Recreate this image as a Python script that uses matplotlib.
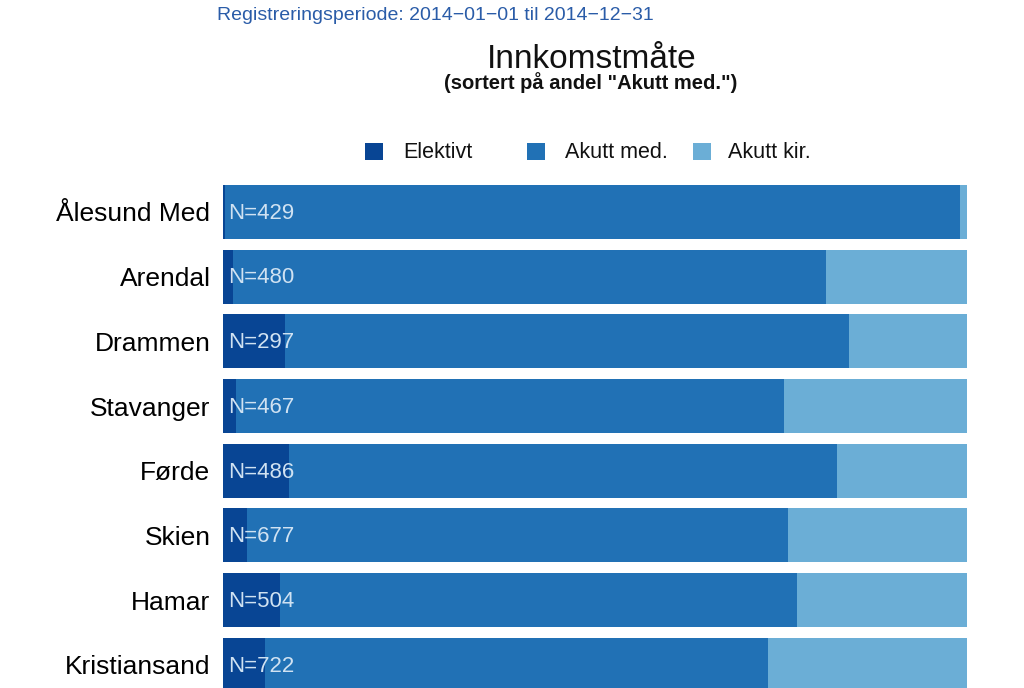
import matplotlib
matplotlib.use("Agg")
import matplotlib.pyplot as plt
from matplotlib.patches import Rectangle

plt.rcParams['font.family'] = ['Liberation Sans', 'DejaVu Sans']

categories = ["Ålesund Med", "Arendal", "Drammen", "Stavanger", "Førde", "Skien", "Hamar", "Kristiansand"]
n_values = [429, 480, 297, 467, 486, 677, 504, 722]
elektivt = [0.3, 1.4, 8.4, 1.8, 8.9, 3.2, 7.6, 5.6]
akutt_med = [98.8, 79.7, 75.8, 73.6, 73.6, 72.8, 69.5, 67.6]
akutt_kir = [0.9, 18.9, 15.8, 24.6, 17.5, 24.0, 22.9, 26.8]
series_names = ["Elektivt", "Akutt med.", "Akutt kir."]
colors = ["#084594", "#2171b5", "#6baed6"]

W, H = 1024, 688
fig = plt.figure(figsize=(W / 100, H / 100), dpi=100)
ax = fig.add_axes([223 / W, 1 - 697.2 / H, 744 / W, (697.2 - 179.6) / H])

y = list(range(len(categories)))
left = [0.0] * len(categories)
for vals, col in zip([elektivt, akutt_med, akutt_kir], colors):
    ax.barh(y, vals, left=left, height=0.835, color=col, edgecolor='none')
    left = [l + v for l, v in zip(left, vals)]

for i, n in enumerate(n_values):
    ax.text(0.7, i + 0.02, f"N={n}", va='center', ha='left', fontsize=16, color='#d0e2f2')

ax.set_xlim(0, 100)
ax.set_ylim(len(categories) - 0.5, -0.5)
ax.set_yticks(y)
ax.set_yticklabels(categories, fontsize=19)
ax.tick_params(axis='y', length=0, pad=9)
ax.set_xticks([])
for s in ax.spines.values():
    s.set_visible(False)

fig.text(217 / W, 1 - 16 / H, "Registreringsperiode: 2014\u221201\u221201 til 2014\u221212\u221231",
         ha='left', va='center', fontsize=14, color='#2a5ca8')
fig.text(592 / W, 1 - 59 / H, "Innkomstmåte", ha='center', va='center', fontsize=24, color='#111111')
fig.text(591 / W, 1 - 83 / H, '(sortert på andel "Akutt med.")', ha='center', va='center',
         fontsize=14.5, fontweight='bold', color='#111111')

# legend (manual placement)
sq_x = [365, 527, 693]
txt_x = [403, 565, 728]
for sx, tx, col, name in zip(sq_x, txt_x, colors, series_names):
    fig.patches.append(Rectangle((sx / W, 1 - 160 / H), 18 / W, 17 / H, transform=fig.transFigure,
                                 facecolor=col, edgecolor='none'))
    fig.text(tx / W, 1 - 152 / H, name, ha='left', va='center', fontsize=15.5, color='#111111')

fig.savefig("out.png", dpi=100)
